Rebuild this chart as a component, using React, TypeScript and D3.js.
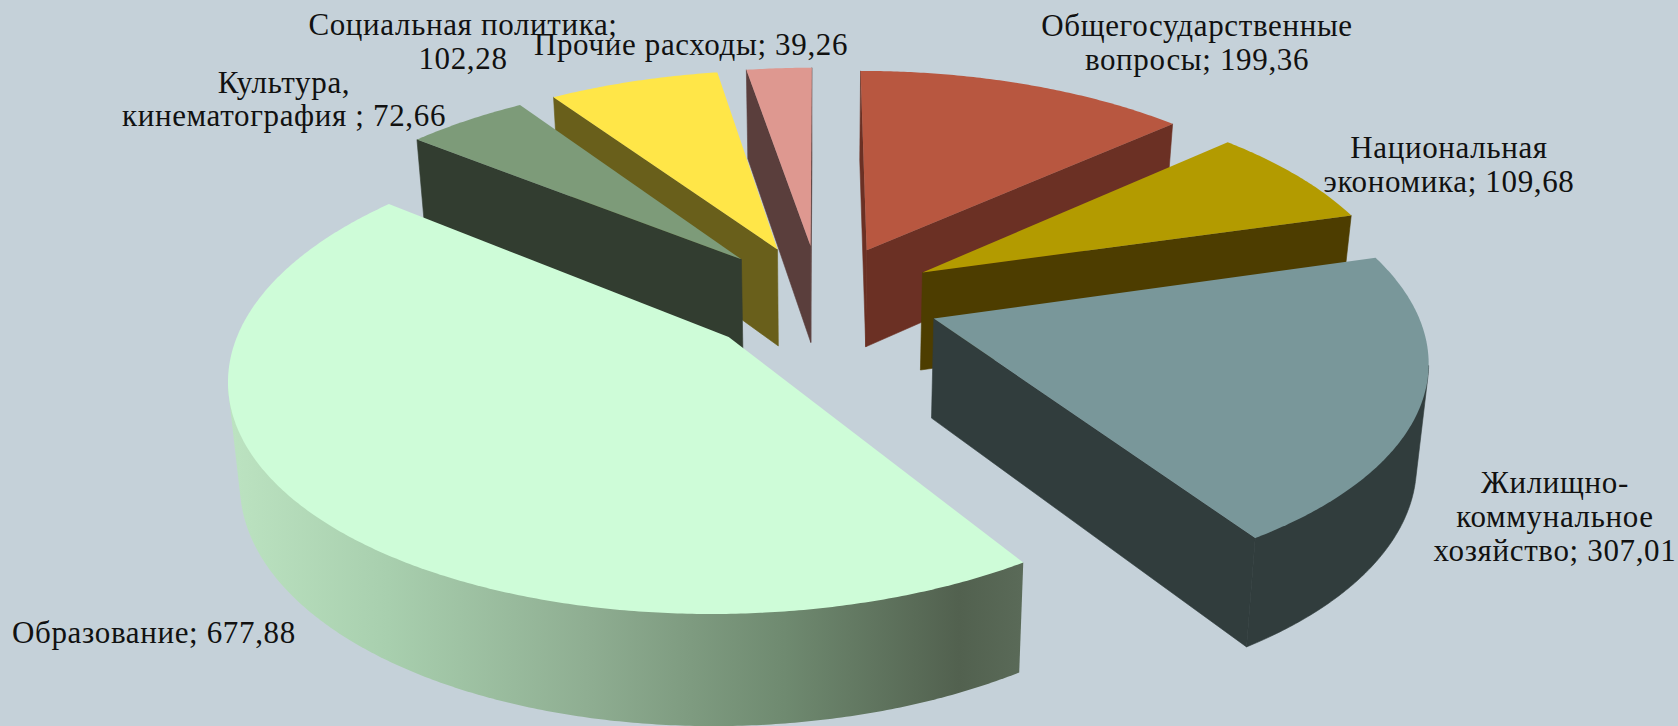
import React from "react";
import * as d3 from "d3";

const WIDTH = 1678;
const HEIGHT = 726;

const categories = [
  "Общегосударственные вопросы",
  "Национальная экономика",
  "Жилищно-коммунальное хозяйство",
  "Образование",
  "Культура, кинематография",
  "Социальная политика",
  "Прочие расходы",
];
const values = [199.36, 109.68, 307.01, 677.88, 72.66, 102.28, 39.26];
const topColors = ["#b85740", "#b39b00", "#79979a", "#cefcd8", "#7d9b79", "#ffe648", "#de9890"];
const wallColors = ["#6b3024", "#4d3d00", "#313d3d", "#52614f", "#323d30", "#695f1b", "#5a3e3c"];
const drawOrder = [6, 5, 4, 0, 1, 2, 3];

const labelLines = [
  ["Общегосударственные", "вопросы; 199,36"],
  ["Национальная", "экономика; 109,68"],
  ["Жилищно-", "коммунальное", "хозяйство; 307,01"],
  ["Образование; 677,88"],
  ["Культура,", "кинематография ; 72,66"],
  ["Социальная политика;", "102,28"],
  ["Прочие расходы; 39,26"],
];
const labelAnchors: [number, number, string, number][] = [
  [1197, 36, "middle", 34],
  [1449, 158, "middle", 34],
  [1555, 493, "middle", 34],
  [12, 643, "start", 34],
  [284, 93, "middle", 33],
  [463, 35, "middle", 34],
  [691, 55, "middle", 34],
];

// view model
const cx = 820, cy = 299, Rx = 479, Ry = 221, k = 0.155, explode = 0.25;
const depthBase = 38, depthSlope = 60.7, converge = 0.98;

const pie = d3.pie<number>().sort(null).value((d) => d)(values);

function project(b: number, theta: number, r: number, low: boolean): [number, number] {
  const u = explode * Math.sin(b) + r * Math.sin(theta);
  const v = -explode * Math.cos(b) - r * Math.cos(theta);
  const s = 1 / (1 - k * v);
  const x = cx + Rx * u * s;
  const y = cy + Ry * v * s;
  if (!low) return [x, y];
  return [cx + (x - cx) * converge, y + depthBase + depthSlope * s];
}

const line = d3.line<[number, number]>().x((d) => d[0]).y((d) => d[1]);

function arcAngles(a0: number, a1: number) {
  const n = Math.max(8, Math.round((a1 - a0) * 120));
  return d3.range(n + 1).map((i) => a0 + ((a1 - a0) * i) / n);
}

const gradientStops: [number, string][] = [
  [0, "#bce3c1"],
  [0.2, "#a8cfae"],
  [0.45, "#8fae92"],
  [0.7, "#6f8a70"],
  [0.92, "#52614f"],
  [1, "#5a6a58"],
];

function Slice({ i }: { i: number }) {
  const p = pie[i];
  const b = (p.startAngle + p.endAngle) / 2;
  const angles = arcAngles(p.startAngle, p.endAngle);
  const top = angles.map((a) => project(b, a, 1, false));
  const bottom = angles.map((a) => project(b, a, 1, true));
  const apexT = project(b, 0, 0, false);
  const apexB = project(b, 0, 0, true);
  const last = angles.length - 1;
  const radial = (idx: number) => line([apexT, top[idx], bottom[idx], apexB]) + "Z";
  const startVisible = top[0][0] < apexT[0];
  const endVisible = top[last][0] > apexT[0];
  // only the part of the rim that faces the viewer: x runs leftward along the front of the pie
  const front = d3.range(last + 1).filter((j) => {
    const a = top[Math.max(0, j - 1)][0];
    const c = top[Math.min(last, j + 1)][0];
    return c < a;
  });
  const hull = front.length
    ? d3.polygonHull([...front.map((j) => top[j]), ...front.map((j) => bottom[j])])
    : null;
  const outer = hull ? line(hull) + "Z" : "";
  const surface = line([apexT, ...top]) + "Z";
  const wall = wallColors[i];
  const isGradient = i === 3;
  const seam = { stroke: wall, strokeWidth: 0.6 };
  return (
    <g>
      {startVisible && <path d={radial(0)} fill={wall} {...seam} />}
      {endVisible && <path d={radial(last)} fill={wall} {...seam} />}
      {outer && <path d={outer} fill={isGradient ? "url(#eduSide)" : wall} {...(isGradient ? {} : seam)} />}
      <path d={surface} fill={topColors[i]} />
    </g>
  );
}

export default function App() {
  return (
    <svg
      width={WIDTH}
      height={HEIGHT}
      viewBox={`0 0 ${WIDTH} ${HEIGHT}`}
      style={{ position: "fixed", left: 0, top: 0, display: "block" }}
    >
      <defs>
        <linearGradient id="eduSide" gradientUnits="userSpaceOnUse" x1={229} x2={1022} y1={0} y2={0}>
          {gradientStops.map(([o, c]) => (
            <stop key={o} offset={o} stopColor={c} />
          ))}
        </linearGradient>
      </defs>
      <rect width={WIDTH} height={HEIGHT} fill="#c5d1d9" />
      {drawOrder.map((i) => (
        <Slice key={categories[i]} i={i} />
      ))}
      {labelLines.map((lines, i) => {
        const [x, y, anchor, lh] = labelAnchors[i];
        return (
          <text
            key={categories[i]}
            textAnchor={anchor}
            fontFamily="'Liberation Serif', serif"
            fontSize={31}
            letterSpacing={0.65}
            fill="#111"
          >
            {lines.map((t, j) => (
              <tspan key={j} x={x} y={y + j * lh}>
                {t}
              </tspan>
            ))}
          </text>
        );
      })}
    </svg>
  );
}
